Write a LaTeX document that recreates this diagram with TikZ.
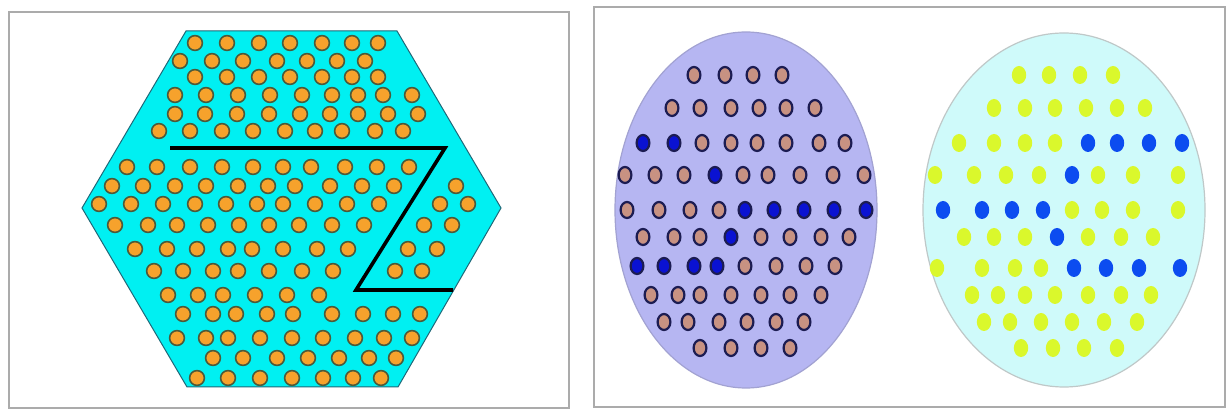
\documentclass[tikz,border=0pt]{standalone}
\usepackage{tikz}
\definecolor{hexcyan}{HTML}{00F0F2}
\definecolor{hexedge}{HTML}{1F6878}
\definecolor{dotorange}{HTML}{F6A22C}
\definecolor{dotrim}{HTML}{4C5A3A}
\definecolor{framegray}{HTML}{ABABAB}
\definecolor{lavender}{HTML}{B6B6F2}
\definecolor{lavedge}{HTML}{A2A2D2}
\definecolor{icecyan}{HTML}{CFFAFA}
\definecolor{iceedge}{HTML}{BFC8C8}
\definecolor{taupe}{HTML}{C89282}
\definecolor{navyrim}{HTML}{1C1C52}
\definecolor{deepblue}{HTML}{0A12D2}
\definecolor{royalblue}{HTML}{0C4CF0}
\definecolor{lime}{HTML}{DAF82C}

\begin{document}
\begin{tikzpicture}[x=0.5pt,y=-0.5pt,
  hexdot/.style={fill=dotorange,draw=dotrim,line width=0.8pt},
  browndot/.style={fill=taupe,draw=navyrim,line width=1.1pt},
  bluedot/.style={fill=deepblue,draw=navyrim,line width=1.1pt},
  limedot/.style={fill=lime},
  sapphiredot/.style={fill=royalblue}]
\useasboundingbox (0,0) rectangle (1230,410);
\fill[white] (0,0) rectangle (1230,410);
\draw[framegray,line width=0.8pt] (9,12) rectangle (569,408);
\draw[framegray,line width=0.8pt] (594,7) rectangle (1225,407);
\filldraw[fill=hexcyan,draw=hexedge,line width=0.5pt] (186,31) -- (397,31) -- (501,208) -- (398,387) -- (187,387) -- (82,208) -- cycle;
\foreach \x in {195,227,259,290,322,352,378} \filldraw[hexdot] (\x,43) circle[radius=3.7pt];
\foreach \x in {180,212,243,277,307,337,365} \filldraw[hexdot] (\x,61) circle[radius=3.7pt];
\foreach \x in {195,227,259,290,322,352,378} \filldraw[hexdot] (\x,77) circle[radius=3.7pt];
\foreach \x in {175,206,238,270,302,332,358,383,412} \filldraw[hexdot] (\x,95) circle[radius=3.7pt];
\foreach \x in {175,205,237,269,300,330,358,388,418} \filldraw[hexdot] (\x,114) circle[radius=3.7pt];
\foreach \x in {159,190,222,253,285,315,342,375,403} \filldraw[hexdot] (\x,131) circle[radius=3.7pt];
\foreach \x in {127,157,190,222,253,283,311,345,377,409} \filldraw[hexdot] (\x,167) circle[radius=3.7pt];
\foreach \x in {112,143,175,206,238,268,295,330,362,394,456} \filldraw[hexdot] (\x,186) circle[radius=3.7pt];
\foreach \x in {99,131,163,195,226,257,283,315,347,379,440,468} \filldraw[hexdot] (\x,204) circle[radius=3.7pt];
\foreach \x in {115,148,177,208,239,269,299,332,364,424,452} \filldraw[hexdot] (\x,225) circle[radius=3.7pt];
\foreach \x in {135,167,197,228,252,283,317,348,408,437} \filldraw[hexdot] (\x,249) circle[radius=3.7pt];
\foreach \x in {154,183,213,238,269,302,333,395,422} \filldraw[hexdot] (\x,271) circle[radius=3.7pt];
\foreach \x in {168,198,223,255,287,319} \filldraw[hexdot] (\x,295) circle[radius=3.7pt];
\foreach \x in {183,213,236,267,293,332,363,393,420} \filldraw[hexdot] (\x,314) circle[radius=3.7pt];
\foreach \x in {177,206,228,260,292,323,355,384,412} \filldraw[hexdot] (\x,338) circle[radius=3.7pt];
\foreach \x in {213,243,277,308,339,369,396} \filldraw[hexdot] (\x,358) circle[radius=3.7pt];
\foreach \x in {197,228,260,292,323,353,381} \filldraw[hexdot] (\x,378) circle[radius=3.7pt];
\draw[line width=1.8pt] (170,148) -- (445,148) -- (356,290) -- (453,290);
\filldraw[fill=lavender,draw=lavedge,line width=0.6pt] (746,210) ellipse[x radius=65.5pt,y radius=89pt];
\filldraw[fill=icecyan,draw=iceedge,line width=0.6pt] (1064,210) ellipse[x radius=70.5pt,y radius=88.5pt];
\foreach \x in {694,725,753,782} \filldraw[browndot] (\x,75) ellipse[x radius=3.2pt,y radius=4pt];
\foreach \x in {672,700,731,759,786,815} \filldraw[browndot] (\x,108) ellipse[x radius=3.2pt,y radius=4pt];
\foreach \x in {702,731,757,786,819,845} \filldraw[browndot] (\x,143) ellipse[x radius=3.2pt,y radius=4pt];
\foreach \x in {643,674} \filldraw[bluedot] (\x,143) ellipse[x radius=3.2pt,y radius=4pt];
\foreach \x in {625,655,684,743,768,800,833,864} \filldraw[browndot] (\x,175) ellipse[x radius=3.2pt,y radius=4pt];
\filldraw[bluedot] (715,175) ellipse[x radius=3.2pt,y radius=4pt];
\foreach \x in {627,659,690,719} \filldraw[browndot] (\x,210) ellipse[x radius=3.2pt,y radius=4pt];
\foreach \x in {745,774,804,834,866} \filldraw[bluedot] (\x,210) ellipse[x radius=3.2pt,y radius=4pt];
\foreach \x in {643,674,700,761,790,821,849} \filldraw[browndot] (\x,237) ellipse[x radius=3.2pt,y radius=4pt];
\filldraw[bluedot] (731,237) ellipse[x radius=3.2pt,y radius=4pt];
\foreach \x in {637,664,694,717} \filldraw[bluedot] (\x,266) ellipse[x radius=3.2pt,y radius=4pt];
\foreach \x in {745,776,806,835} \filldraw[browndot] (\x,266) ellipse[x radius=3.2pt,y radius=4pt];
\foreach \x in {651,678,700,731,761,790,821} \filldraw[browndot] (\x,295) ellipse[x radius=3.2pt,y radius=4pt];
\foreach \x in {664,688,719,747,776,804} \filldraw[browndot] (\x,322) ellipse[x radius=3.2pt,y radius=4pt];
\foreach \x in {700,731,761,790} \filldraw[browndot] (\x,348) ellipse[x radius=3.2pt,y radius=4pt];
\foreach \x in {1019,1049,1080,1113} \fill[limedot] (\x,75) ellipse[x radius=3.6pt,y radius=4.5pt];
\foreach \x in {994,1025,1055,1086,1117,1145} \fill[limedot] (\x,108) ellipse[x radius=3.6pt,y radius=4.5pt];
\foreach \x in {959,994,1025,1055} \fill[limedot] (\x,143) ellipse[x radius=3.6pt,y radius=4.5pt];
\foreach \x in {1088,1117,1149,1182} \fill[sapphiredot] (\x,143) ellipse[x radius=3.6pt,y radius=4.5pt];
\foreach \x in {935,974,1006,1039,1098,1133,1178} \fill[limedot] (\x,175) ellipse[x radius=3.6pt,y radius=4.5pt];
\fill[sapphiredot] (1072,175) ellipse[x radius=3.6pt,y radius=4.5pt];
\foreach \x in {943,982,1012,1043} \fill[sapphiredot] (\x,210) ellipse[x radius=3.6pt,y radius=4.5pt];
\foreach \x in {1072,1102,1133,1178} \fill[limedot] (\x,210) ellipse[x radius=3.6pt,y radius=4.5pt];
\foreach \x in {964,994,1025,1088,1121,1153} \fill[limedot] (\x,237) ellipse[x radius=3.6pt,y radius=4.5pt];
\fill[sapphiredot] (1057,237) ellipse[x radius=3.6pt,y radius=4.5pt];
\foreach \x in {937,982,1015,1041} \fill[limedot] (\x,268) ellipse[x radius=3.6pt,y radius=4.5pt];
\foreach \x in {1074,1106,1139,1180} \fill[sapphiredot] (\x,268) ellipse[x radius=3.6pt,y radius=4.5pt];
\foreach \x in {972,998,1025,1055,1088,1121,1151} \fill[limedot] (\x,295) ellipse[x radius=3.6pt,y radius=4.5pt];
\foreach \x in {984,1010,1041,1072,1104,1137} \fill[limedot] (\x,322) ellipse[x radius=3.6pt,y radius=4.5pt];
\foreach \x in {1021,1053,1084,1117} \fill[limedot] (\x,348) ellipse[x radius=3.6pt,y radius=4.5pt];
\end{tikzpicture}
\end{document}
